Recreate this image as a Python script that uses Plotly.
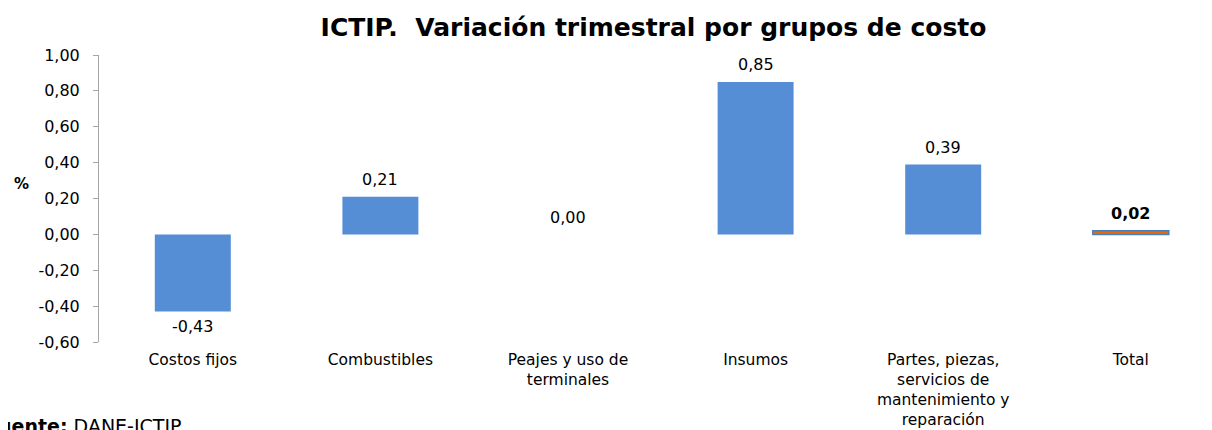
import plotly.graph_objects as go

categories = ["Costos fijos", "Combustibles", "Peajes y uso de<br>terminales", "Insumos",
              "Partes, piezas,<br>servicios de<br>mantenimiento y<br>reparación", "Total"]
values = [-0.43, 0.21, 0.00, 0.85, 0.39, 0.02]
labels = ["-0,43", "0,21", "0,00", "0,85", "0,39", "0,02"]
y_ticks = [-0.6, -0.4, -0.2, 0.0, 0.2, 0.4, 0.6, 0.8, 1.0]
y_ticktext = ["-0,60", "-0,40", "-0,20", "0,00", "0,20", "0,40", "0,60", "0,80", "1,00"]
title = "ICTIP.  Variación trimestral por grupos de costo"

FONT = "DejaVu Sans"
BLUE = "#558ED5"
ORANGE = "#E46C0A"
idx = list(range(len(categories)))
is_total = [c == "Total" for c in categories]
bar_colors = [ORANGE if t else BLUE for t in is_total]
line_widths = [1.5 if t else 0 for t in is_total]

# page body has an 8px margin: figure is sized so it fills the 1212x430 window
W, H = 1204, 422
L, T, B, R = 91, 47, 88, 0
PW, PH = W - L - R, H - T - B

fig = go.Figure()
fig.add_trace(go.Bar(
    x=idx, y=values, width=0.405,
    marker=dict(color=bar_colors, line=dict(color="#4A7EBB", width=line_widths)),
    hoverinfo="skip", showlegend=False,
))

for i, (v, t) in enumerate(zip(values, labels)):
    txt = "<b>" + t + "</b>" if is_total[i] else t
    fig.add_annotation(
        x=i, y=v, xref="x", yref="y", text=txt, showarrow=False,
        yanchor="middle", yshift=(-15 if v < 0 else 17),
        font=dict(family=FONT, size=16, color="#000000"),
    )

ymin, ymax = -0.6, 1.0
fig.update_layout(
    width=W, height=H,
    margin=dict(l=L, r=R, t=T, b=B),
    paper_bgcolor="white", plot_bgcolor="white",
    title=dict(text="<b>" + title + "</b>", xref="paper", x=(645.5 - L) / PW, xanchor="center",
               yref="container", y=1 - 19 / H, yanchor="middle",
               font=dict(family=FONT, size=25, color="#000000")),
    xaxis=dict(
        range=[-0.5, -0.5 + PW / 187.6], tickvals=idx, ticktext=categories,
        showline=False, ticks="", showgrid=False, zeroline=False,
        tickfont=dict(family=FONT, size=15.5, color="#000000"),
        ticklabelstandoff=6,
        fixedrange=True,
    ),
    xaxis2=dict(
        overlaying="x", anchor="free", position=(0 - ymin) / (ymax - ymin),
        range=[-0.5, -0.5 + PW / 187.6], tickvals=[0.5, 1.5, 2.5, 3.5, 4.5],
        showticklabels=False, showline=True, linecolor="#A6A6A6", linewidth=1,
        ticks="outside", ticklen=5, tickcolor="#A6A6A6", showgrid=False, zeroline=False,
    ),
    yaxis=dict(
        range=[ymin, ymax], tickvals=y_ticks, ticktext=y_ticktext,
        showline=True, linecolor="#A6A6A6", linewidth=1,
        ticks="outside", ticklen=5, tickcolor="#A6A6A6",
        showgrid=False, zeroline=False,
        tickfont=dict(family=FONT, size=16, color="#000000"),
        ticklabelstandoff=10,
    ),
)

# y-axis unit label
fig.add_annotation(
    x=(13 - L) / PW, y=(H - B - 176) / PH, xref="paper", yref="paper",
    xanchor="center", yanchor="middle",
    text="<b>%</b>", showarrow=False,
    font=dict(family=FONT, size=15, color="#000000"),
)

# source note (partly cut at the left/bottom edge as in the reference)
fig.add_annotation(
    x=(-24 - L) / PW, y=(H - B - 418) / PH, xref="paper", yref="paper",
    xanchor="left", yanchor="middle", showarrow=False,
    text="<b>Fuente:</b> DANE-ICTIP",
    font=dict(family=FONT, size=19, color="#000000"),
)

fig.write_html("out.html")
